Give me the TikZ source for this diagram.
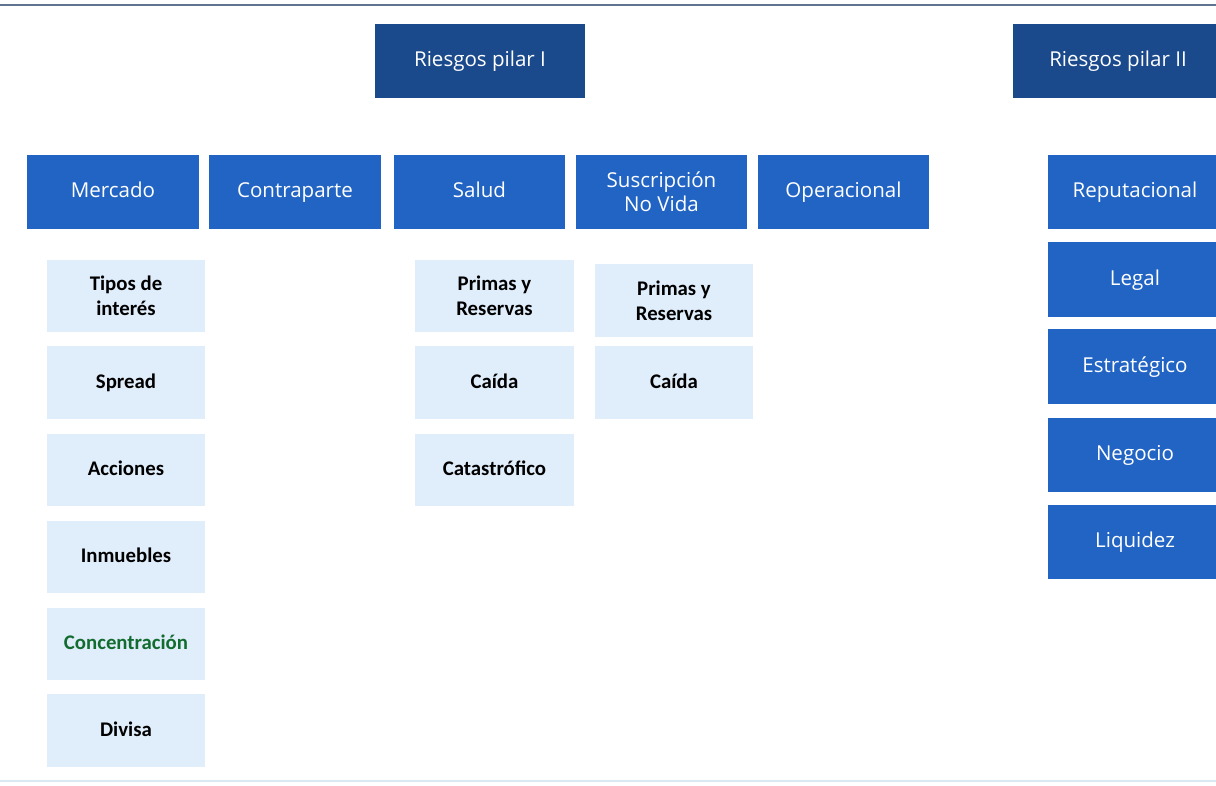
\documentclass[tikz,border=0pt]{standalone}
\usepackage{fontspec}
\setmainfont{Open Sans}
\newfontfamily\subfont{Carlito}
\usepackage{xcolor}
\usetikzlibrary{positioning}
\definecolor{PilarBlue}{RGB}{27,74,140}
\definecolor{RiskBlue}{RGB}{33,100,196}
\definecolor{SubBlue}{RGB}{224,237,250}
\definecolor{RuleGray}{RGB}{96,116,146}
\definecolor{RuleLight}{RGB}{218,232,242}
\definecolor{ConcGreen}{RGB}{18,108,48}
\tikzset{
  pilarbox/.style={fill=PilarBlue, text=white, minimum width=5.25cm, minimum height=1.85cm,
    align=center, inner sep=0pt, text height=11pt, text depth=3pt,
    font=\fontsize{14.6}{17}\selectfont},
  riskbox/.style={fill=RiskBlue, text=white, minimum width=4.28cm, minimum height=1.85cm,
    align=center, inner sep=0pt, text height=11pt, text depth=3pt,
    font=\fontsize{14.6}{17}\selectfont},
  sidebox/.style={riskbox, minimum width=4.35cm},
  subbox/.style={fill=SubBlue, text=black, minimum width=3.95cm, minimum height=1.8cm,
    align=center, inner sep=0pt, text height=11pt, text depth=3pt,
    font=\subfont\bfseries\fontsize{14.8}{17.5}\selectfont},
  twoline/.style={text height={}, text depth={}},
}
\begin{document}
\begin{tikzpicture}[x=0.025cm, y=-0.025cm]
  \useasboundingbox (0,0) rectangle (1216,786);
  \clip (0,0) rectangle (1216,786);
  % rules
  \draw[RuleGray, line width=2pt] (0,5) -- (1216,5);
  \draw[RuleLight, line width=1.5pt] (0,781) -- (1216,781);
  % pillars
  \node[pilarbox] (pilar1) at (480,61) {Riesgos pilar I};
  \node[pilarbox] (pilar2) at (1118,61) {Riesgos pilar II};
  % pillar I risks
  \node[riskbox] (mercado) at (113,192) {Mercado};
  \node[riskbox] (contraparte) at (295,192) {Contraparte};
  \node[riskbox] (salud) at (479.5,192) {Salud};
  \node[riskbox, twoline] (suscripcion) at (661.5,192) {Suscripción\\No Vida};
  \node[riskbox] (operacional) at (843.5,192) {Operacional};
  % mercado submodules
  \node[subbox, twoline] (tipos) at (126,296) {Tipos de\\interés};
  \node[subbox] (spread) at (126,382.5) {Spread};
  \node[subbox] (acciones) at (126,470) {Acciones};
  \node[subbox] (inmuebles) at (126,557) {Inmuebles};
  \node[subbox, text=ConcGreen] (concentracion) at (126,644) {Concentración};
  \node[subbox] (divisa) at (126,730.5) {Divisa};
  % salud submodules
  \node[subbox, twoline] (saludprimas) at (494.5,296) {Primas y\\Reservas};
  \node[subbox] (saludcaida) at (494.5,382.5) {Caída};
  \node[subbox] (saludcat) at (494.5,470) {Catastrófico};
  % no vida submodules
  \node[subbox, twoline] (nvprimas) at (674,300.5) {Primas y\\Reservas};
  \node[subbox] (nvcaida) at (674,382.5) {Caída};
  % pillar II risks
  \node[sidebox] (reputacional) at (1135,192) {Reputacional};
  \node[sidebox] (legal) at (1135,279.5) {Legal};
  \node[sidebox] (estrategico) at (1135,366.5) {Estratégico};
  \node[sidebox] (negocio) at (1135,455) {Negocio};
  \node[sidebox] (liquidez) at (1135,542) {Liquidez};
\end{tikzpicture}
\end{document}
